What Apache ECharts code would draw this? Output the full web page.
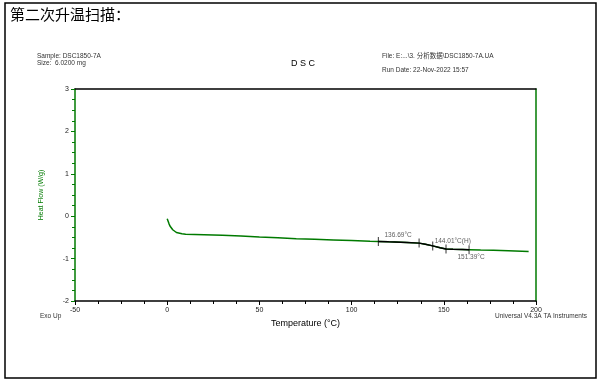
<!DOCTYPE html>
<html><head><meta charset="utf-8">
<script src="https://cdn.jsdelivr.net/npm/echarts@6/dist/echarts.min.js"></script>
<style>html,body{margin:0;padding:0;background:#fff}#c{width:600px;height:383px}</style>
</head><body><div id="c"></div>
<script>
const temps = [0,0.5,1,1.5,2,3,4,5,6,8,10,15,20,30,40,50,60,70,80,90,100,110,114.5,120,130,136.6,140,144,148,151.2,155,160,163.7,170,177,185,196];
const heatFlow = [-0.06,-0.12,-0.18,-0.23,-0.27,-0.32,-0.36,-0.385,-0.40,-0.415,-0.425,-0.43,-0.435,-0.45,-0.465,-0.49,-0.51,-0.53,-0.545,-0.56,-0.575,-0.59,-0.595,-0.605,-0.62,-0.635,-0.66,-0.70,-0.745,-0.775,-0.78,-0.785,-0.79,-0.80,-0.805,-0.815,-0.83];
const markTemps = [114.5,136.6,144,151.2,163.7];
const markValues = [-0.595,-0.635,-0.70,-0.775,-0.79];
const annTemps = [136.6,144,151.2];
const annValues = [-0.635,-0.70,-0.775];
const annTexts = ['136.69°C','144.01°C(H)','151.39°C'];
const xTicks = [-50,0,50,100,150,200];
const yTicks = [-2,-1,0,1,2,3];

const FONT = '"Liberation Sans", Arial, sans-serif';
const green = '#007a00';
const seg = [];
for (let i=0;i<temps.length;i++){ if (temps[i]>=114.5 && temps[i]<=163.7) seg.push([temps[i],heatFlow[i]]); }
const annOffsets = [[-21,-8],[20,-5],[25,8]];

const chart = echarts.init(document.getElementById('c'));
chart.setOption({
  animation:false,
  textStyle:{fontFamily:FONT},
  grid:{left:75,top:89,right:64,bottom:82},
  xAxis:[{
    type:'value',min:xTicks[0],max:xTicks[xTicks.length-1],interval:50,position:'bottom',
    axisLine:{onZero:false,lineStyle:{color:'#000',width:1.5}},
    axisTick:{show:true,length:4,lineStyle:{color:'#000'}},
    minorTick:{show:true,splitNumber:4,length:3,lineStyle:{color:'#000'}},
    splitLine:{show:false},
    axisLabel:{fontSize:7,color:'#222',margin:6,fontFamily:FONT},
    name:'Temperature (°C)',nameLocation:'middle',nameGap:17,
    nameTextStyle:{fontSize:9,color:'#000',fontFamily:FONT}
  },{
    type:'value',min:-50,max:200,position:'top',
    axisLine:{show:true,onZero:false,lineStyle:{color:'#000',width:1.5}},
    axisTick:{show:false},axisLabel:{show:false},splitLine:{show:false}
  }],
  yAxis:[{
    type:'value',min:yTicks[0],max:yTicks[yTicks.length-1],interval:1,position:'left',
    axisLine:{show:true,onZero:false,lineStyle:{color:green,width:1.5}},
    axisTick:{show:true,length:4,lineStyle:{color:green}},
    minorTick:{show:true,splitNumber:4,length:3,lineStyle:{color:green}},
    splitLine:{show:false},
    axisLabel:{fontSize:7,color:'#222',margin:6,fontFamily:FONT},
    name:'Heat Flow (W/g)',nameLocation:'middle',nameGap:30,nameRotate:90,
    nameTextStyle:{fontSize:7,color:green,fontFamily:FONT}
  },{
    type:'value',min:-2,max:3,position:'right',
    axisLine:{show:true,onZero:false,lineStyle:{color:green,width:1.5}},
    axisTick:{show:false},axisLabel:{show:false},splitLine:{show:false}
  }],
  series:[
    {type:'line',data:temps.map((t,i)=>[t,heatFlow[i]]),showSymbol:false,
     lineStyle:{color:green,width:1.5},z:2},
    {type:'line',data:seg,showSymbol:false,lineStyle:{color:'#000',width:1.5},z:3},
    {type:'scatter',data:markTemps.map((t,i)=>[t,markValues[i]]),symbol:'rect',symbolSize:[1,9],
     itemStyle:{color:'#000'},z:4},
    {type:'scatter',data:annTemps.map((t,i)=>({value:[t,annValues[i]],
       label:{show:true,formatter:annTexts[i],offset:annOffsets[i],position:'inside',
       fontSize:6.5,color:'#333',fontFamily:FONT}})),
     symbolSize:0,itemStyle:{color:'transparent'},z:5}
  ],
  graphic:[
    {type:'rect',shape:{x:5,y:3,width:591,height:375},style:{fill:'none',stroke:'#000',lineWidth:1.5},silent:true},
    {type:'text',left:10,top:7,style:{text:'第二次升温扫描：',font:'15px "Noto Sans CJK SC", sans-serif',fill:'#000'}},
    {type:'text',left:37,top:53,style:{text:'Sample: DSC1850-7A',font:'6.5px '+FONT,fill:'#333'}},
    {type:'text',left:37,top:60,style:{text:'Size:  6.0200 mg',font:'6.5px '+FONT,fill:'#333'}},
    {type:'text',left:291,top:59,style:{text:'D S C',font:'9px '+FONT,fill:'#000'}},
    {type:'text',left:382,top:53,style:{text:'File: E:...\\3. 分析数据\\DSC1850-7A.UA',font:'6.5px '+FONT+', "Noto Sans CJK SC"',fill:'#333'}},
    {type:'text',left:382,top:67,style:{text:'Run Date: 22-Nov-2022 15:57',font:'6.5px '+FONT,fill:'#333'}},
    {type:'text',left:40,top:313,style:{text:'Exo Up',font:'6.5px '+FONT,fill:'#333'}},
    {type:'text',right:13,top:313,style:{text:'Universal V4.3A TA Instruments',font:'6.5px '+FONT,fill:'#333'}}
  ]
});
</script></body></html>
